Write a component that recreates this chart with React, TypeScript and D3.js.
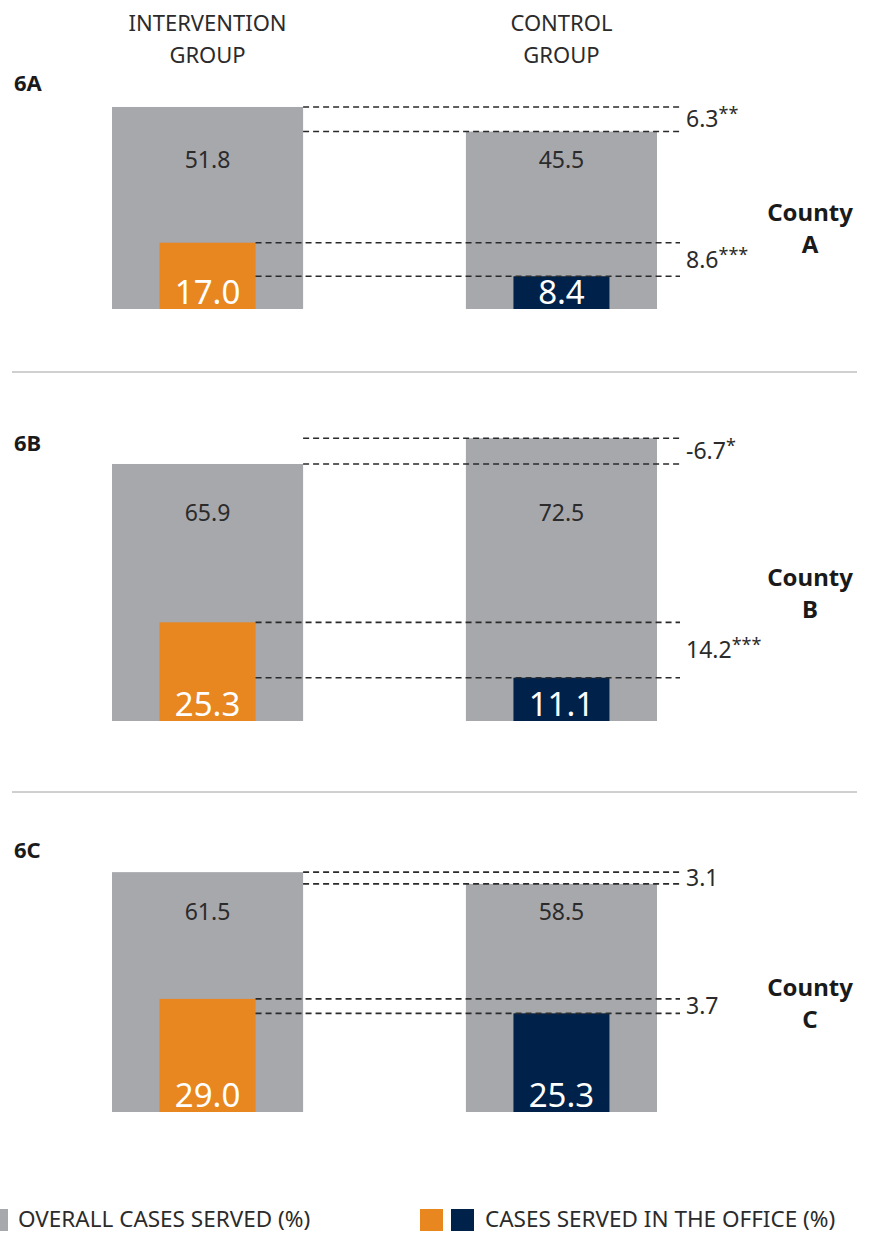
import * as d3 from "d3";

const panelLabels = ["6A", "6B", "6C"];
const counties = ["A", "B", "C"];
const groups = ["intervention", "control"];
const groupTitles = [
  ["INTERVENTION", "GROUP"],
  ["CONTROL", "GROUP"],
];
const overallIntervention = [51.8, 65.9, 61.5];
const overallControl = [45.5, 72.5, 58.5];
const officeIntervention = [17.0, 25.3, 29.0];
const officeControl = [8.4, 11.1, 25.3];
const overallDiff = ["6.3", "-6.7", "3.1"];
const overallStars = ["**", "*", ""];
const officeDiff = ["8.6", "14.2", "3.7"];
const officeStars = ["***", "***", ""];
const legendItems = ["OVERALL CASES SERVED (%)", "CASES SERVED IN THE OFFICE (%)"];

const W = 875;
const H = 1233;
const FONT = "'Noto Sans', sans-serif";
const GRAY = "#a7a8ac";
const ORANGE = "#e88620";
const NAVY = "#00224a";
const TEXT = "#2b2b2b";

// layout per panel
const baselines = [309, 721, 1112];
const panelLabelY = [83, 443, 850];
const valueLabelY = [160, 513, 912];
const countyLabelY = [213, 578, 988];
const separators = [372, 792];

export default function App() {
  const x = d3
    .scaleBand<string>()
    .domain(groups)
    .range([112, 657])
    .paddingInner(0.46);
  const bw = x.bandwidth();
  const innerW = 96;
  const h = d3.scaleLinear().domain([0, 75]).range([0, 292.5]);
  const lineEnd = 680;

  return (
    <svg
      width={W}
      height={H}
      style={{ position: "absolute", left: 0, top: 0, fontFamily: FONT }}
    >
      {/* group headers */}
      {groups.map((g, i) =>
        groupTitles[i].map((t, j) => (
          <text
            key={g + j}
            x={(x(g) ?? 0) + bw / 2}
            y={23 + j * 32}
            dy="0.35em"
            textAnchor="middle"
            fontSize={22}
            fill={TEXT}
          >
            {t}
          </text>
        )),
      )}

      {counties.map((c, i) => {
        const base = baselines[i];
        const overall = [overallIntervention[i], overallControl[i]];
        const office = [officeIntervention[i], officeControl[i]];
        const officeColors = [ORANGE, NAVY];
        const yOverall = overall.map((v) => base - h(v));
        const yOffice = office.map((v) => base - h(v));
        const xIntRight = (x("intervention") ?? 0) + bw;
        const xOffRight = (x("intervention") ?? 0) + bw / 2 + innerW / 2;
        return (
          <g key={c}>
            <text
              x={14}
              y={panelLabelY[i]}
              dy="0.35em"
              fontSize={22}
              fontWeight={700}
              fill="#1a1a1a"
            >
              {panelLabels[i]}
            </text>
            {groups.map((g, k) => (
              <g key={g}>
                <rect
                  x={x(g)}
                  y={yOverall[k]}
                  width={bw}
                  height={h(overall[k])}
                  fill={GRAY}
                />
                <rect
                  x={(x(g) ?? 0) + bw / 2 - innerW / 2}
                  y={yOffice[k]}
                  width={innerW}
                  height={h(office[k])}
                  fill={officeColors[k]}
                />
                <text
                  x={(x(g) ?? 0) + bw / 2}
                  y={valueLabelY[i]}
                  dy="0.35em"
                  textAnchor="middle"
                  fontSize={23}
                  fill={TEXT}
                >
                  {overall[k].toFixed(1)}
                </text>
                <text
                  x={(x(g) ?? 0) + bw / 2}
                  y={base - 5}
                  textAnchor="middle"
                  fontSize={33}
                  fill="#fff"
                >
                  {office[k].toFixed(1)}
                </text>
              </g>
            ))}
            {/* dashed reference lines */}
            {yOverall.map((yy, k) => (
              <line
                key={"o" + k}
                x1={xIntRight}
                x2={lineEnd}
                y1={yy}
                y2={yy}
                stroke="#2a2a2a"
                strokeWidth={1.6}
                strokeDasharray="6 4"
              />
            ))}
            {yOffice.map((yy, k) => (
              <line
                key={"f" + k}
                x1={xOffRight}
                x2={lineEnd}
                y1={yy}
                y2={yy}
                stroke="#2a2a2a"
                strokeWidth={1.6}
                strokeDasharray="6 4"
              />
            ))}
            <text
              x={686}
              y={(yOverall[0] + yOverall[1]) / 2}
              dy="0.35em"
              fontSize={23}
              fill={TEXT}
            >
              {overallDiff[i]}
              <tspan fontSize={18} dy={-7}>
                {overallStars[i]}
              </tspan>
            </text>
            <text
              x={686}
              y={(yOffice[0] + yOffice[1]) / 2}
              dy="0.35em"
              fontSize={23}
              fill={TEXT}
            >
              {officeDiff[i]}
              <tspan fontSize={18} dy={-7}>
                {officeStars[i]}
              </tspan>
            </text>
            {/* county label */}
            <text
              x={810}
              y={countyLabelY[i]}
              textAnchor="middle"
              fontSize={24}
              fontWeight={700}
              fill="#1a1a1a"
            >
              <tspan x={810} dy="0.35em">
                County
              </tspan>
              <tspan x={810} dy={32}>
                {c}
              </tspan>
            </text>
          </g>
        );
      })}

      {separators.map((s) => (
        <line key={s} x1={12} x2={857} y1={s} y2={s} stroke="#a0a0a0" strokeWidth={1} />
      ))}

      {/* legend */}
      <rect x={0} y={1209} width={8} height={22} fill={GRAY} />
      <text x={18} y={1219} dy="0.35em" fontSize={22.5} fill={TEXT}>
        {legendItems[0]}
      </text>
      <rect x={420} y={1209} width={23} height={22} fill={ORANGE} />
      <rect x={451} y={1209} width={23} height={22} fill={NAVY} />
      <text x={485} y={1219} dy="0.35em" fontSize={22.5} fill={TEXT}>
        {legendItems[1]}
      </text>
    </svg>
  );
}
